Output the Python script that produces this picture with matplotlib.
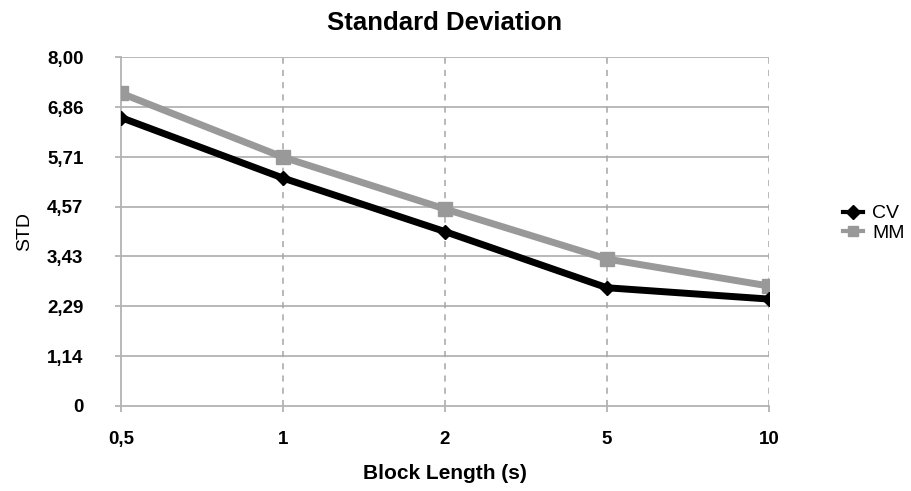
import numpy as np
import matplotlib.pyplot as plt

plt.rcParams['font.family'] = ['Liberation Sans', 'DejaVu Sans']

# data
block_labels = ['0,5', '1', '2', '5', '10']
cv = [6.62, 5.23, 4.00, 2.71, 2.45]
mm = [7.18, 5.71, 4.52, 3.37, 2.75]
yticks = [0, 1.14, 2.29, 3.43, 4.57, 5.71, 6.86, 8.00]
ytick_labels = ['0', '1,14', '2,29', '3,43', '4,57', '5,71', '6,86', '8,00']

fig = plt.figure(figsize=(9.11, 4.91), dpi=100)
ax = fig.add_axes([0.1328, 0.1737, 0.8441 - 0.1328, 0.8829 - 0.1737])

x = np.arange(len(block_labels))
ax.plot(x, mm, color='#999999', lw=5, marker='s', ms=10, label='MM', zorder=3)
ax.plot(x, cv, color='black', lw=5, marker='D', ms=7, label='CV', zorder=4)

ax.set_xlim(0, len(block_labels) - 1)
ax.set_ylim(0, 8)
ax.set_xticks(x)
ax.set_xticklabels(block_labels, fontsize=13.5, fontweight='bold')
ax.set_yticks(yticks)
ax.set_yticklabels(ytick_labels, fontsize=13.5, fontweight='bold')

for s in ['top', 'right']:
    ax.spines[s].set_visible(False)
for s in ['left', 'bottom']:
    ax.spines[s].set_color('#b3b3b3')
    ax.spines[s].set_linewidth(1.3)
ax.tick_params(axis='both', color='#b3b3b3', length=4, width=1.3)
ax.tick_params(axis='x', pad=14)
ax.tick_params(axis='y', pad=23)

for yv in yticks[1:]:
    ax.axhline(yv, color='#b3b3b3', lw=1.3, zorder=1)
for xv in x[1:]:
    ax.axvline(xv, color='#a6a6a6', lw=1.1, ls=(0, (4, 4)), zorder=1)

ax.set_title('Standard Deviation', fontsize=18.5, fontweight='bold', pad=20)
ax.set_xlabel('Block Length (s)', fontsize=15, fontweight='bold', labelpad=12)
ax.set_ylabel('STD', fontsize=14, labelpad=10)

h, l = ax.get_legend_handles_labels()
leg = fig.legend(h[::-1], l[::-1], loc='center left', bbox_to_anchor=(0.917, 0.545),
                 frameon=False, fontsize=14, handlelength=1.0, handletextpad=0.5,
                 labelspacing=0.1, borderaxespad=0)
for lh in leg.legend_handles:
    lh.set_markersize(7)
    lh.set_linewidth(3)

fig.savefig('out.png', dpi=100)
